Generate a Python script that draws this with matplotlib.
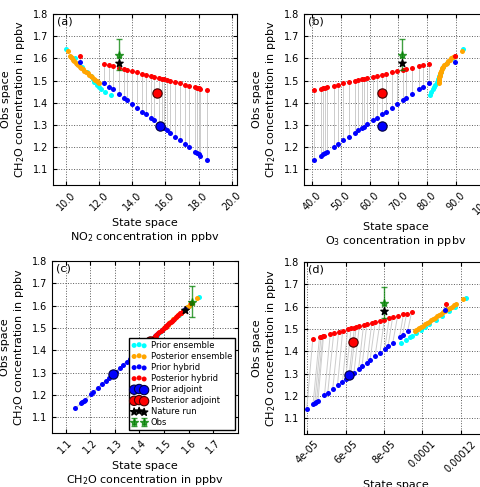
import matplotlib
matplotlib.use("Agg")
import matplotlib.pyplot as plt
from matplotlib.ticker import FixedLocator, FixedFormatter

# ---------------- data (obs space = CH2O in ppbv) ----------------
# hybrid members: prior and posterior obs-space values
y_prior_hyb = [1.585, 1.490, 1.473, 1.462, 1.439, 1.422, 1.411, 1.394, 1.377, 1.360,
               1.349, 1.332, 1.320, 1.304, 1.292, 1.287, 1.275, 1.264, 1.247, 1.230,
               1.213, 1.202, 1.179, 1.174, 1.168, 1.162, 1.140]
y_post_hyb = [1.610, 1.575, 1.569, 1.565, 1.558, 1.552, 1.548, 1.542, 1.537, 1.531,
              1.527, 1.521, 1.517, 1.512, 1.508, 1.506, 1.502, 1.498, 1.492, 1.487,
              1.481, 1.477, 1.469, 1.468, 1.466, 1.464, 1.456]
# state space of hybrid members
no2_hyb = [10.85, 12.3, 12.6, 12.8, 13.2, 13.5, 13.7, 14.0, 14.3, 14.6,
           14.8, 15.1, 15.3, 15.6, 15.8, 15.9, 16.1, 16.3, 16.6, 16.9,
           17.2, 17.4, 17.8, 17.9, 18.0, 18.1, 18.5]
o3_hyb = [89.7, 80.5, 78.6, 77.3, 74.7, 72.7, 71.5, 69.5, 67.6, 65.6,
          64.4, 62.4, 61.1, 59.2, 57.9, 57.3, 55.9, 54.7, 52.7, 50.8,
          48.8, 47.6, 45.0, 44.4, 43.7, 43.0, 40.5]
emis_prior_hyb = [11.19e-5, 9.23e-5, 8.97e-5, 8.81e-5, 8.46e-5, 8.21e-5, 8.04e-5, 7.79e-5, 7.53e-5, 7.27e-5,
                  7.11e-5, 6.85e-5, 6.67e-5, 6.43e-5, 6.25e-5, 6.17e-5, 5.99e-5, 5.83e-5, 5.57e-5, 5.32e-5,
                  5.06e-5, 4.89e-5, 4.55e-5, 4.47e-5, 4.38e-5, 4.29e-5, 3.96e-5]
emis_post_hyb = [11.22e-5, 9.44e-5, 9.18e-5, 9.01e-5, 8.71e-5, 8.45e-5, 8.27e-5, 8.01e-5, 7.80e-5, 7.54e-5,
                 7.36e-5, 7.10e-5, 6.93e-5, 6.71e-5, 6.54e-5, 6.45e-5, 6.28e-5, 6.10e-5, 5.84e-5, 5.63e-5,
                 5.37e-5, 5.19e-5, 4.84e-5, 4.80e-5, 4.71e-5, 4.63e-5, 4.28e-5]

# prior ensemble
y_prior_ens = [1.640, 1.600, 1.580, 1.560, 1.540, 1.520, 1.508, 1.495, 1.482, 1.470, 1.463, 1.450, 1.437]
no2_prior_ens = [9.98, 10.55, 10.75, 10.97, 11.22, 11.50, 11.60, 11.68, 11.86, 12.0, 12.12, 12.35, 12.73]
o3_prior_ens = [92.6, 88.5, 86.9, 85.6, 84.7, 84.1, 83.8, 83.4, 82.9, 82.4, 82.0, 81.5, 81.0]
emis_prior_ens = [12.3e-5, 11.73e-5, 11.39e-5, 11.04e-5, 10.69e-5, 10.34e-5, 10.14e-5, 9.91e-5,
                  9.68e-5, 9.47e-5, 9.35e-5, 9.13e-5, 8.90e-5]

# posterior ensemble
y_post_ens = [1.632, 1.612, 1.606, 1.600, 1.594, 1.588, 1.581, 1.575, 1.569, 1.562, 1.556, 1.550,
              1.544, 1.538, 1.532, 1.526, 1.520, 1.514, 1.508, 1.503, 1.498, 1.494, 1.490]
no2_post_ens = [10.08, 10.24, 10.28, 10.34, 10.40, 10.48, 10.57, 10.63, 10.71, 10.82, 10.91, 11.00,
                11.09, 11.19, 11.29, 11.37, 11.47, 11.57, 11.68, 11.76, 11.85, 11.93, 12.00]
o3_post_ens = [92.0, 89.6, 89.0, 88.4, 87.8, 87.3, 86.8, 86.4, 86.0, 85.6, 85.3, 85.1,
               84.9, 84.7, 84.6, 84.5, 84.4, 84.3, 84.2, 84.2, 84.1, 84.1, 84.1]
emis_post_ens = [12.1e-5, 11.74e-5, 11.64e-5, 11.53e-5, 11.43e-5, 11.32e-5, 11.20e-5, 11.10e-5,
                 10.99e-5, 10.87e-5, 10.77e-5, 10.66e-5, 10.56e-5, 10.45e-5, 10.35e-5, 10.24e-5,
                 10.14e-5, 10.03e-5, 9.93e-5, 9.84e-5, 9.76e-5, 9.69e-5, 9.62e-5]

# adjoint, nature run, obs
y_prior_adj, y_post_adj = 1.293, 1.443
no2_adj = [15.65, 15.49]
o3_adj = [64.1, 64.4]
emis_adj = [6.17e-5, 6.40e-5]
y_nature = 1.580
no2_nature, o3_nature, emis_nature = 13.17, 71.4, 8.0e-5
y_obs, obs_err = 1.617, 0.07
no2_obs, o3_obs, emis_obs = 13.17, 71.4, 8.0e-5

# axis ticks
no2_ticks = [10.0, 12.0, 14.0, 16.0, 18.0, 20.0]
o3_ticks = [40.0, 50.0, 60.0, 70.0, 80.0, 90.0, 100.0]
ch2o_ticks = [1.1, 1.2, 1.3, 1.4, 1.5, 1.6, 1.7]
emis_ticks = [4e-05, 6e-05, 8e-05, 0.0001, 0.00012]
y_ticks = [1.1, 1.2, 1.3, 1.4, 1.5, 1.6, 1.7, 1.8]

# ---------------- style ----------------
plt.rcParams["font.family"] = "DejaVu Sans"
plt.rcParams["font.size"] = 7
plt.rcParams["xtick.direction"] = "in"
plt.rcParams["ytick.direction"] = "in"
plt.rcParams["xtick.top"] = True
plt.rcParams["ytick.right"] = True
plt.rcParams["xtick.major.size"] = 3
plt.rcParams["ytick.major.size"] = 3

fig = plt.figure(figsize=(4.8, 4.87), dpi=100)
W, H = 480.0, 487.0


def add_ax(left, top, right, bottom):
    return fig.add_axes([left / W, 1 - bottom / H, (right - left) / W, (bottom - top) / H])


def panel(ax, x_pri_hyb, x_post_hyb, x_pri_ens, x_post_ens, x_adj, x_nat, x_obs,
          xlim, ticks, ticklabels, xname, tag):
    # lines joining prior and posterior hybrid members
    for xp, yp, xq, yq in zip(x_pri_hyb, y_prior_hyb, x_post_hyb, y_post_hyb):
        ax.plot([xp, xq], [yp, yq], color="0.8", linewidth=0.7, zorder=1)
    h1 = ax.scatter(x_pri_ens, y_prior_ens, s=13, color="cyan", linewidths=0, zorder=2, label="Prior ensemble")
    h2 = ax.scatter(x_post_ens, y_post_ens, s=13, color="orange", linewidths=0, zorder=3, label="Posterior ensemble")
    h3 = ax.scatter(x_pri_hyb, y_prior_hyb, s=13, color="blue", linewidths=0, zorder=4, label="Prior hybrid")
    h4 = ax.scatter(x_post_hyb, y_post_hyb, s=13, color="red", linewidths=0, zorder=4, label="Posterior hybrid")
    h5 = ax.scatter([x_adj[0]], [y_prior_adj], s=45, color="blue", edgecolors="#000040", linewidths=0.8,
                    zorder=5, label="Prior adjoint")
    h6 = ax.scatter([x_adj[1]], [y_post_adj], s=45, color="red", edgecolors="#400000", linewidths=0.8,
                    zorder=5, label="Posterior adjoint")
    h8 = ax.errorbar([x_obs], [y_obs], yerr=[obs_err], fmt="*", color="green", alpha=0.75,
                     markersize=6, capsize=2.5, elinewidth=1.0, zorder=6, label="Obs")
    h7 = ax.scatter([x_nat], [y_nature], s=30, marker="*", color="black", zorder=7, label="Nature run")

    ax.set_xlim(xlim)
    ax.set_ylim(1.029, 1.8)
    ax.xaxis.set_major_locator(FixedLocator(ticks))
    ax.xaxis.set_major_formatter(FixedFormatter(ticklabels))
    ax.yaxis.set_major_locator(FixedLocator(y_ticks))
    ax.yaxis.set_major_formatter(FixedFormatter([str(v) for v in y_ticks]))
    plt.setp(ax.get_xticklabels(), rotation=45, ha="center")
    ax.grid(True, linestyle=":", color="0.35", linewidth=0.7)
    ax.set_axisbelow(True)
    ax.set_xlabel(xname, fontsize=8)
    ax.set_ylabel("Obs space\nCH$_2$O concentration in ppbv", fontsize=8)
    ax.text(0.02, 0.985, tag, transform=ax.transAxes, fontsize=8, va="top", ha="left")
    return [h1, h2, h3, h4, h5, h6, h7, h8]


ax_a = add_ax(53, 14, 237, 185)
panel(ax_a, no2_hyb, no2_hyb, no2_prior_ens, no2_post_ens, no2_adj, no2_nature, no2_obs,
      (9.19, 20.33), no2_ticks, ["10.0", "12.0", "14.0", "16.0", "18.0", "20.0"],
      "State space\nNO$_2$ concentration in ppbv", "(a)")

ax_b = add_ax(304, 14, 488, 185)
panel(ax_b, o3_hyb, o3_hyb, o3_prior_ens, o3_post_ens, o3_adj, o3_nature, o3_obs,
      (37.1, 101.2), o3_ticks, ["40.0", "50.0", "60.0", "70.0", "80.0", "90.0", "100.0"],
      "State space\nO$_3$ concentration in ppbv", "(b)")

ax_c = add_ax(52, 261, 238, 433)
handles = panel(ax_c, y_prior_hyb, y_post_hyb, y_prior_ens, y_post_ens, [y_prior_adj, y_post_adj],
                1.583, 1.615, (1.045, 1.80), ch2o_ticks, [str(v) for v in ch2o_ticks],
                "State space\nCH$_2$O concentration in ppbv", "(c)")
ax_c.legend(handles=handles, loc="lower right", fontsize=6, scatterpoints=3, numpoints=2,
            fancybox=False, edgecolor="black", framealpha=1, borderaxespad=0.4,
            labelspacing=0.25, handlelength=1.8, handletextpad=0.5, borderpad=0.3)

ax_d = add_ax(304, 262, 488, 434)
panel(ax_d, emis_prior_hyb, emis_post_hyb, emis_prior_ens, emis_post_ens, emis_adj, emis_nature, emis_obs,
      (3.82e-5, 13.43e-5), emis_ticks, ["4e-05", "6e-05", "8e-05", "0.0001", "0.00012"],
      "State space", "(d)")

fig.savefig("out.png", dpi=100)
